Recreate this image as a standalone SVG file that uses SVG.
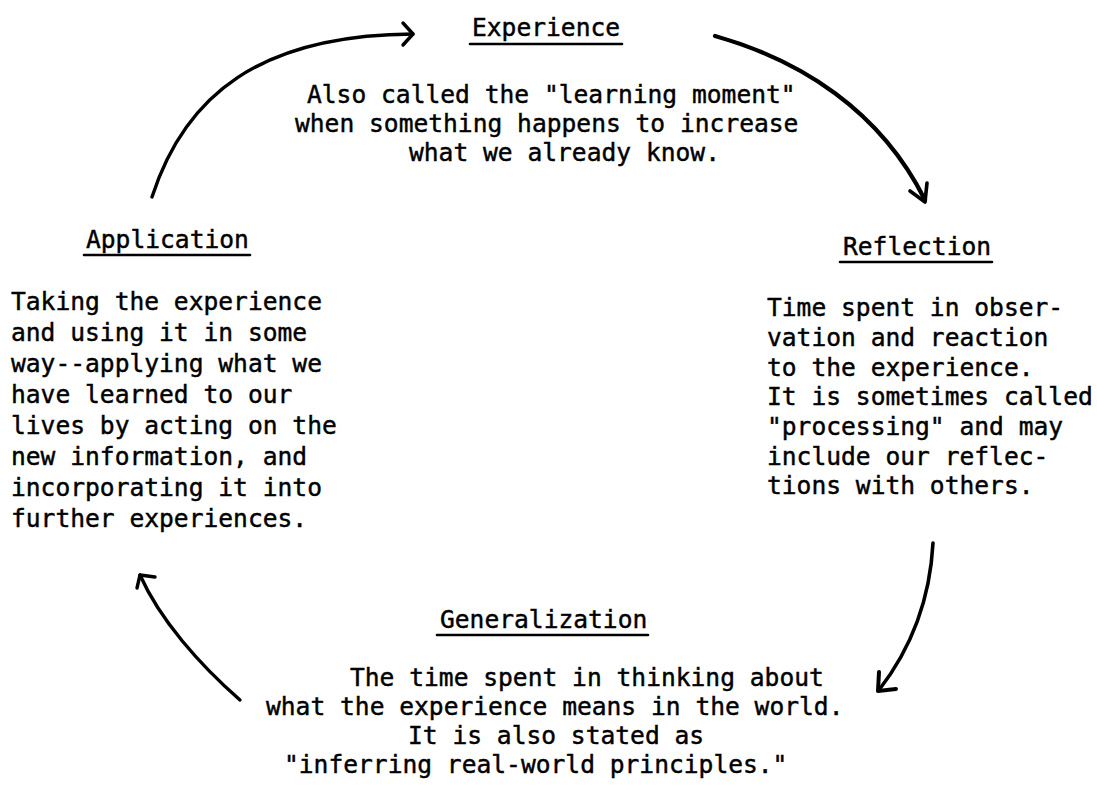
<svg xmlns="http://www.w3.org/2000/svg" width="1097" height="785" viewBox="0 0 1097 785">
<style>
.t{font-family:"DejaVu Sans Mono","Liberation Mono",monospace;font-size:24.6px;fill:#000;stroke:#000;stroke-width:0.45}
.u{stroke:#000;stroke-width:2.6;stroke-linecap:round;fill:none}
.c{stroke:#000;fill:none;stroke-linecap:round;stroke-linejoin:round}
</style>
<rect width="1097" height="785" fill="#fff"/>
<g id="experience">
<text class="t" x="472" y="36">Experience</text>
<line class="u" x1="470" y1="44" x2="622" y2="44"/>
<text class="t" x="307" y="103">Also called the "learning moment"</text>
<text class="t" x="295" y="132">when something happens to increase</text>
<text class="t" x="409" y="161">what we already know.</text>
</g>
<g id="reflection">
<text class="t" x="843" y="255">Reflection</text>
<line class="u" x1="840" y1="262" x2="992" y2="262"/>
<text class="t" x="767" y="316">Time spent in obser-</text>
<text class="t" x="767" y="346">vation and reaction</text>
<text class="t" x="767" y="376">to the experience.</text>
<text class="t" x="767" y="405">It is sometimes called</text>
<text class="t" x="767" y="435">"processing" and may</text>
<text class="t" x="767" y="465">include our reflec-</text>
<text class="t" x="767" y="494">tions with others.</text>
</g>
<g id="generalization">
<text class="t" x="440" y="628">Generalization</text>
<line class="u" x1="437" y1="635" x2="648" y2="635"/>
<text class="t" x="350" y="686">The time spent in thinking about</text>
<text class="t" x="266" y="715">what the experience means in the world.</text>
<text class="t" x="408" y="744">It is also stated as</text>
<text class="t" x="284" y="773">"inferring real-world principles."</text>
</g>
<g id="application">
<text class="t" x="86" y="248">Application</text>
<line class="u" x1="84" y1="255" x2="250" y2="255"/>
<text class="t" x="11" y="310">Taking the experience</text>
<text class="t" x="11" y="341">and using it in some</text>
<text class="t" x="11" y="372">way--applying what we</text>
<text class="t" x="11" y="403">have learned to our</text>
<text class="t" x="11" y="434">lives by acting on the</text>
<text class="t" x="11" y="465">new information, and</text>
<text class="t" x="11" y="496">incorporating it into</text>
<text class="t" x="11" y="527">further experiences.</text>
</g>
<g id="connectors">
<path class="c" stroke-width="3.4" d="M152,197 C185,95 260,35 413,34"/>
<path class="c" stroke-width="3.4" d="M403,23 L413,34 L403,45"/>
<path class="c" stroke-width="4.2" d="M715,36 C800,60 880,110 925,200"/>
<path class="c" stroke-width="3.6" d="M910,191 L925,202 L927,183"/>
<path class="c" stroke-width="3.6" d="M933,543 C930,600 910,650 879,690"/>
<path class="c" stroke-width="4" d="M879,672 L878,691 L896,689"/>
<path class="c" stroke-width="3.4" d="M240,700 C200,665 160,620 140,575"/>
<path class="c" stroke-width="3.4" d="M137,588 L140,575 L155,577"/>
</g>
</svg>
